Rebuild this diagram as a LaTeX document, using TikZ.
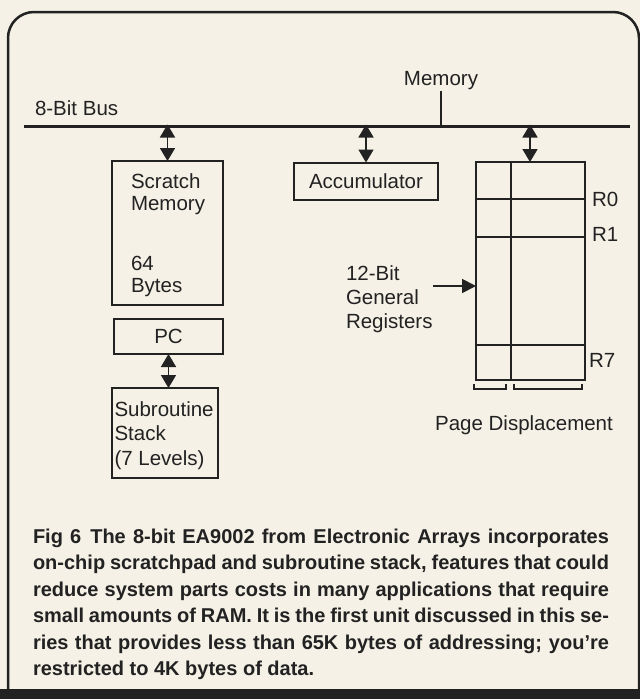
\documentclass[tikz,border=0pt]{standalone}
\usepackage{fontspec}
\setmainfont{Liberation Sans}
\usetikzlibrary{arrows.meta}
\definecolor{paper}{HTML}{F5F1E6}
\definecolor{ink}{HTML}{222222}
\begin{document}
\begin{tikzpicture}[x=1pt,y=-1pt,
  lbl/.style={font=\fontsize{20.5}{24}\selectfont, text=ink, inner sep=0pt, outer sep=0pt},
  blk/.style={draw=ink, line width=2pt, inner sep=0pt, outer sep=0pt, font=\fontsize{20.5}{24}\selectfont, text=ink},
  dbl/.style={draw=ink, line width=1.8pt, {Triangle[width=15pt,length=13pt]}-{Triangle[width=15pt,length=13pt]}},
  sgl/.style={draw=ink, line width=1.8pt, -{Triangle[width=14pt,length=14pt]}},
  grid/.style={draw=ink, line width=2pt},
  capt/.style={font=\bfseries\fontsize{20}{26.5}\selectfont, text=ink, inner sep=0pt, outer sep=0pt},
]
\useasboundingbox (0,0) rectangle (640,699);
\fill[paper] (0,0) rectangle (640,699);

% frame
\draw[ink, line width=2.5pt, rounded corners=26pt] (8,690) -- (8,12) -- (639,12) -- (639,690);
\fill[ink] (0,689) rectangle (640,699);

% bus
\coordinate (busL) at (24,126.5);
\coordinate (busR) at (630,126.5);
\draw[ink, line width=3pt] (busL) -- (busR);
\node[lbl, anchor=base west] (buslbl) at (35,115) {8-Bit Bus};
\node[lbl, anchor=base] (memlbl) at (441,85) {Memory};
\coordinate (memtick) at (441,91);
\draw[ink, line width=1.8pt] (memtick) -- (memtick |- busL);

% left column
\node[blk, anchor=north west, minimum width=111pt, minimum height=144pt] (scratch) at (112,161) {};
\node[lbl, anchor=base west] (s1) at (131,188) {Scratch};
\node[lbl, anchor=base west] (s2) at (131,210) {Memory};
\node[lbl, anchor=base west] (s3) at (131,270) {64};
\node[lbl, anchor=base west] (s4) at (131,292) {Bytes};

\node[blk, anchor=north west, minimum width=109pt, minimum height=35pt] (pc) at (114,319) {PC};
\node[blk, anchor=north west, minimum width=106pt, minimum height=90pt] (stack) at (112,388) {};
\node[lbl, anchor=base west] (k1) at (114.5,416) {Subroutine};
\node[lbl, anchor=base west] (k2) at (114.5,440) {Stack};
\node[lbl, anchor=base west] (k3) at (114.5,465) {(7 Levels)};

\coordinate (b1) at (scratch.north |- busL);
\draw[dbl] ([yshift=2pt]b1) -- (scratch.north);
\draw[dbl] (pc.south) -- (pc.south |- stack.north);

% accumulator
\node[blk, anchor=north west, minimum width=144pt, minimum height=37pt] (acc) at (294,162.5) {Accumulator};
\coordinate (b2) at (acc.north |- busL);
\draw[dbl] ([yshift=2pt]b2) -- (acc.north);

% registers
\node[blk, anchor=north west, minimum width=109pt, minimum height=218pt] (regs) at (476,162) {};
\draw[grid] (511,162) -- (511,380);
\draw[grid] (476,199) -- (585,199);
\draw[grid] (476,236.5) -- (585,236.5);
\draw[grid] (476,344.5) -- (585,344.5);
\coordinate (b3) at (530,126.5);
\draw[dbl] ([yshift=2pt]b3) -- (b3 |- regs.north);

\node[lbl, anchor=base west] (r0) at (592,206) {R0};
\node[lbl, anchor=base west] (r1) at (592,241) {R1};
\node[lbl, anchor=base west] (r7) at (589,367) {R7};

\draw[ink, line width=1.6pt] (474,384) -- (474,389) -- (506,389) -- (506,384);
\draw[ink, line width=1.6pt] (514,384) -- (514,389) -- (582,389) -- (582,384);
\node[lbl, anchor=base] (pd) at (524,430) {Page Displacement};

\node[lbl, anchor=base west] (g1) at (346,280) {12-Bit};
\node[lbl, anchor=base west] (g2) at (346,304) {General};
\node[lbl, anchor=base west] (g3) at (346,328) {Registers};
\coordinate (gin) at (433,286);
\draw[sgl] (gin) -- (gin -| regs.west);

% caption
\node[capt, anchor=base west] (caption) at (33,543) {\parbox[t]{576pt}{%
\makebox[576pt][s]{Fig 6\hspace{0.45em}The 8-bit EA9002 from Electronic Arrays incorporates}\\
\makebox[576pt][s]{on-chip scratchpad and subroutine stack, features that could}\\
\makebox[576pt][s]{reduce system parts costs in many applications that require}\\
\makebox[576pt][s]{small amounts of RAM. It is the first unit discussed in this se-}\\
\makebox[576pt][s]{ries that provides less than 65K bytes of addressing; you’re}\\
restricted to 4K bytes of data.}};
\end{tikzpicture}
\end{document}
